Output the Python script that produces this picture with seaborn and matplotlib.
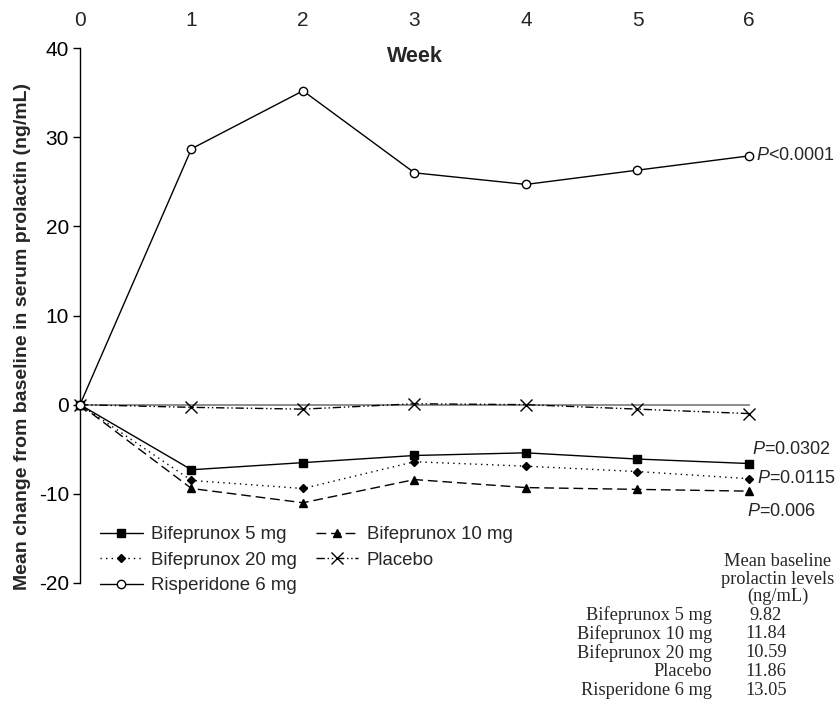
import numpy as np
import pandas as pd
import matplotlib
matplotlib.use("Agg")
import matplotlib.pyplot as plt
import seaborn as sns

weeks = [0, 1, 2, 3, 4, 5, 6]
bif5 = [0, -7.3, -6.5, -5.7, -5.4, -6.1, -6.6]
bif10 = [0, -9.4, -11.0, -8.4, -9.3, -9.5, -9.7]
bif20 = [0, -8.5, -9.4, -6.4, -6.9, -7.5, -8.3]
placebo = [0, -0.3, -0.5, 0.1, 0.0, -0.5, -1.0]
risp = [0, 28.7, 35.2, 26.0, 24.7, 26.3, 27.9]

groups = ["Bifeprunox 5 mg", "Bifeprunox 10 mg", "Bifeprunox 20 mg", "Placebo", "Risperidone 6 mg"]
baseline = ["9.82", "11.84", "10.59", "11.86", "13.05"]
pvals = ["$P$<0.0001", "$P$=0.0302", "$P$=0.0115", "$P$=0.006"]

sns.set_theme(style="white")
plt.rcParams["font.family"] = ["Liberation Sans", "DejaVu Sans"]
plt.rcParams["mathtext.fontset"] = "custom"
plt.rcParams["mathtext.it"] = "Liberation Sans:italic"
plt.rcParams["mathtext.rm"] = "Liberation Sans"
plt.rcParams["axes.unicode_minus"] = False

W, H = 837, 701
fig = plt.figure(figsize=(W / 100, H / 100), dpi=100)
ax = fig.add_axes([80 / W, 1 - 583 / H, 669 / W, 535 / H])

def px(x, y):
    return x / W, 1 - y / H

styles = {
    "Bifeprunox 5 mg": dict(data=bif5, ls="-", marker="s", ms=6, mfc="black"),
    "Bifeprunox 10 mg": dict(data=bif10, ls=(0, (7, 3.5)), marker="^", ms=6, mfc="black"),
    "Bifeprunox 20 mg": dict(data=bif20, ls=(0, (1, 3)), marker="D", ms=4.2, mfc="black"),
    "Placebo": dict(data=placebo, ls=(0, (6, 2, 1, 2, 1, 2)), marker="x", ms=8, mfc="black"),
    "Risperidone 6 mg": dict(data=risp, ls="-", marker="o", ms=6, mfc="white"),
}

lines = {}
for name in groups:
    st = styles[name]
    sns.lineplot(x=weeks, y=st["data"], ax=ax, color="black", linestyle=st["ls"],
                 lw=1.0, marker=st["marker"], markersize=st["ms"],
                 markerfacecolor=st["mfc"], markeredgecolor="black",
                 markeredgewidth=1.0, label=name, clip_on=False, zorder=3)
    lines[name] = ax.lines[-1]

ax.set_xlim(0, 6)
ax.set_ylim(-20, 40)
ax.set_yticks([-20, -10, 0, 10, 20, 30, 40])
ax.set_xticks(weeks)
ax.xaxis.tick_top()
ax.tick_params(axis="x", length=0, pad=13, labelsize=15)
ax.tick_params(axis="y", left=True, length=5, width=1, pad=3, labelsize=15, colors="black")
ax.set_xlabel("")
ax.set_ylabel("")

for s in ["top", "right"]:
    ax.spines[s].set_visible(False)
ax.spines["bottom"].set_position(("data", 0))
ax.spines["bottom"].set_color("#8c8c8c")
ax.spines["bottom"].set_linewidth(1.4)
ax.spines["bottom"].set_zorder(1)
ax.spines["left"].set_color("black")
ax.spines["left"].set_linewidth(1.0)

ax.text(3, 1 - 8 / 535, "Week", transform=ax.get_xaxis_transform(),
        ha="center", va="center", fontsize=15.5, fontweight="bold")

fig.text(*px(23, 337), "Mean change from baseline in serum prolactin (ng/mL)",
         rotation=90, ha="center", va="center", fontsize=14, fontweight="bold")

# p-value labels next to week 6 points
offsets = [("Risperidone 6 mg", (7, 0), "left"), ("Bifeprunox 5 mg", (3, 14), "left"),
           ("Bifeprunox 20 mg", (8, 0), "left"), ("Bifeprunox 10 mg", (-2, -20), "left")]
for (name, off, ha), lab in zip(offsets, pvals):
    ax.annotate(lab, xy=(weeks[-1], styles[name]["data"][-1]), xytext=off,
                textcoords="offset pixels", ha=ha, va="center", fontsize=13,
                annotation_clip=False)

order = ["Bifeprunox 5 mg", "Bifeprunox 20 mg", "Risperidone 6 mg", "Bifeprunox 10 mg", "Placebo"]
ax.legend([lines[n] for n in order], order, ncol=2, frameon=False, fontsize=13.4,
          loc="upper left", bbox_to_anchor=px(100, 526), bbox_transform=fig.transFigure,
          borderaxespad=0, borderpad=0, handlelength=2.3, handletextpad=0.45,
          columnspacing=1.0, labelspacing=0.46)

serif = ["Liberation Serif", "DejaVu Serif"]
for i, t in enumerate(["Mean baseline", "prolactin levels", "(ng/mL)"]):
    fig.text(*px(778, 562 + 17 * i), t, ha="center", va="center", fontsize=13.2, family=serif)
for i, (g, v) in enumerate(zip(groups, baseline)):
    y = 615 + 18.8 * i
    fig.text(*px(712, y), g, ha="right", va="center", fontsize=13.2, family=serif)
    fig.text(*px(766, y), v, ha="center", va="center", fontsize=13.2, family=serif)

fig.savefig("out.png", dpi=100)
